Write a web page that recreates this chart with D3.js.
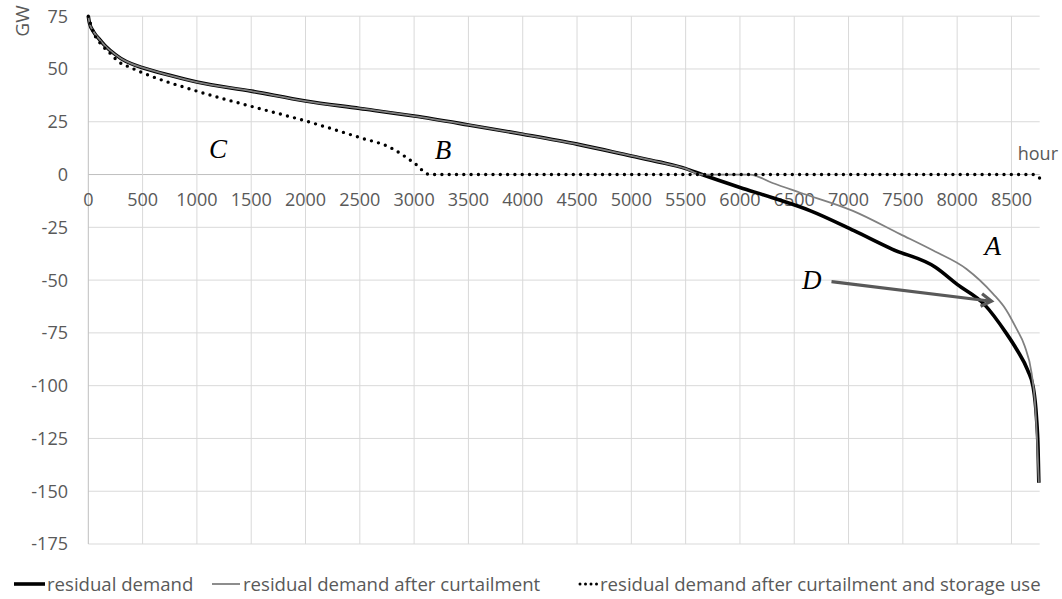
<!DOCTYPE html>
<html>
<head>
<meta charset="utf-8">
<script src="https://cdn.jsdelivr.net/npm/d3@7/dist/d3.min.js"></script>
<style>
  body { margin: 0; background: #fff; }
  svg { display: block; }
  text { font-family: "Open Sans", sans-serif; fill: #595959; }
</style>
</head>
<body>
<svg id="chart" width="1062" height="599"></svg>
<script>
// ---------------- data ----------------
const seriesNames = [
  "residual demand",
  "residual demand after curtailment",
  "residual demand after curtailment and storage use"
];
const xTicks = [0,500,1000,1500,2000,2500,3000,3500,4000,4500,5000,5500,6000,6500,7000,7500,8000,8500];
const yTicks = [75,50,25,0,-25,-50,-75,-100,-125,-150,-175];

const hoursResidual = [0,10,50,100,150,200,250,300,400,500,750,1000,1500,2000,2500,3000,3500,4000,4500,5000,5250,5500,5650,6000,6300,6650,7050,7400,7800,8000,8250,8450,8550,8650,8700,8730,8745,8752];
const residual      = [75,72,67.5,64.2,61.2,58.8,56.8,55.0,52.4,50.6,47,43.8,39.5,34.8,31.3,27.7,23.5,19.1,14.4,8.8,6,2.8,0,-6.1,-11,-17.2,-26.6,-35.3,-43.9,-52,-61.5,-75,-83,-92.8,-100.7,-114.8,-130,-146];

const hoursCurtail  = [0,10,50,100,150,200,250,300,400,500,750,1000,1500,2000,2500,3000,3500,4000,4500,5000,5250,5500,5650,5800,6090,6300,6550,7040,7475,7780,8086,8331,8450,8546,8620,8685,8715,8735,8752];
const curtailed     = [75,72,67.5,64.2,61.2,58.8,56.8,55.0,52.4,50.6,47,43.8,39.5,34.8,31.3,27.7,23.5,19.1,14.4,8.8,6,2.8,0,0,0,-4,-8.5,-17.2,-28.2,-36,-44.7,-56.5,-64,-73,-81,-94,-107,-125,-146];

const hoursStorage  = [0,50,120,200,273,393,500,1000,1500,2000,2500,2780,3000,3145,5000,8000,8700,8760];
const storage       = [75,67,61.6,57.5,53.7,50.6,48.2,39.5,32.3,25.4,17.5,12.8,5.5,0,0,0,0,-1.7];

// annotations (data coordinates)
const labels = [
  {t: "C", h: 1194, v: 12.1},
  {t: "B", h: 3266, v: 11.7},
  {t: "A", h: 8328, v: -33.8},
  {t: "D", h: 6662, v: -49.9}
];
const arrowFrom = {h: 6843, v: -50.7};
const arrowTo   = {h: 8316, v: -60};

// ---------------- chart ----------------
const svg = d3.select("#chart");
const x = d3.scaleLinear().domain([0, 8760]).range([88.3, 1039.7]);
const y = d3.scaleLinear().domain([-175, 75]).range([544, 16.2]);

const grid = svg.append("g");
grid.selectAll("line.h").data(yTicks).join("line")
  .attr("x1", x(0)).attr("x2", x(8760))
  .attr("y1", d => y(d)).attr("y2", d => y(d))
  .attr("stroke", d => d === 0 ? "#bfbfbf" : "#d9d9d9").attr("stroke-width", 1);
grid.selectAll("line.v").data(xTicks).join("line")
  .attr("x1", d => x(d)).attr("x2", d => x(d))
  .attr("y1", y(75)).attr("y2", y(-175))
  .attr("stroke", d => d === 0 ? "#bfbfbf" : "#d9d9d9").attr("stroke-width", 1);

// y tick labels
svg.append("g").selectAll("text").data(yTicks).join("text")
  .attr("x", 68).attr("y", d => y(d)).attr("dy", "0.36em")
  .attr("text-anchor", "end").attr("font-size", 18).text(d => d);

// x tick labels
svg.append("g").selectAll("text").data(xTicks).join("text")
  .attr("x", d => x(d)).attr("y", y(0) + 31)
  .attr("text-anchor", "middle").attr("font-size", 18).text(d => d);

// axis titles
svg.append("text").attr("transform", `translate(29,21) rotate(-90)`)
  .attr("text-anchor", "middle").attr("font-size", 19).text("GW");
svg.append("text").attr("x", 1058).attr("y", 160)
  .attr("text-anchor", "end").attr("font-size", 18).text("hour");

// lines
const mk = (hs, vs) => hs.map((h, i) => [h, vs[i]]);
const line = d3.line().x(d => x(d[0])).y(d => y(d[1])).curve(d3.curveMonotoneX);

svg.append("path").datum(mk(hoursResidual, residual))
  .attr("d", line).attr("fill", "none").attr("stroke", "#000").attr("stroke-width", 3.6)
  .attr("stroke-linejoin", "round");
svg.append("path").datum(mk(hoursCurtail, curtailed))
  .attr("d", line).attr("fill", "none").attr("stroke", "#808080").attr("stroke-width", 1.8)
  .attr("stroke-linejoin", "round");
svg.append("path").datum(mk(hoursStorage, storage))
  .attr("d", line).attr("fill", "none").attr("stroke", "#000").attr("stroke-width", 3.4)
  .attr("stroke-linecap", "round").attr("stroke-dasharray", "0 7.3");

// annotation letters
svg.append("g").selectAll("text").data(labels).join("text")
  .attr("x", d => x(d.h)).attr("y", d => y(d.v) + 9)
  .attr("text-anchor", "middle")
  .style("font-family", "'Liberation Serif', 'DejaVu Serif', serif")
  .style("font-style", "italic").style("fill", "#000")
  .attr("font-size", 27).text(d => d.t);

// arrow
const ax1 = x(arrowFrom.h), ay1 = y(arrowFrom.v), ax2 = x(arrowTo.h), ay2 = y(arrowTo.v);
const ang = Math.atan2(ay2 - ay1, ax2 - ax1);
const hl = 12, hw = 0.55;
svg.append("line").attr("x1", ax1).attr("y1", ay1).attr("x2", ax2 - 2*Math.cos(ang)).attr("y2", ay2 - 2*Math.sin(ang))
  .attr("stroke", "#595959").attr("stroke-width", 3.2);
svg.append("path")
  .attr("d", `M${ax2 - hl*Math.cos(ang - hw)},${ay2 - hl*Math.sin(ang - hw)} L${ax2},${ay2} L${ax2 - hl*Math.cos(ang + hw)},${ay2 - hl*Math.sin(ang + hw)}`)
  .attr("fill", "none").attr("stroke", "#595959").attr("stroke-width", 3.2).attr("stroke-linejoin", "miter");

// legend
const legendX = [{sx: 14, ex: 45, tx: 47}, {sx: 212, ex: 240, tx: 243}, {sx: 580, ex: 597, tx: 600}];
const ly = 584;
const lg = svg.append("g");
lg.append("line").attr("x1", legendX[0].sx).attr("x2", legendX[0].ex).attr("y1", ly).attr("y2", ly)
  .attr("stroke", "#000").attr("stroke-width", 3.6);
lg.append("line").attr("x1", legendX[1].sx).attr("x2", legendX[1].ex).attr("y1", ly).attr("y2", ly)
  .attr("stroke", "#808080").attr("stroke-width", 1.8);
lg.append("line").attr("x1", legendX[2].sx).attr("x2", legendX[2].ex).attr("y1", ly).attr("y2", ly)
  .attr("stroke", "#000").attr("stroke-width", 3).attr("stroke-linecap", "round").attr("stroke-dasharray", "0 5.5");
lg.selectAll("text").data(seriesNames).join("text")
  .attr("x", (d, i) => legendX[i].tx).attr("y", ly + 7)
  .attr("font-size", 18.6).text(d => d);
</script>
</body>
</html>
